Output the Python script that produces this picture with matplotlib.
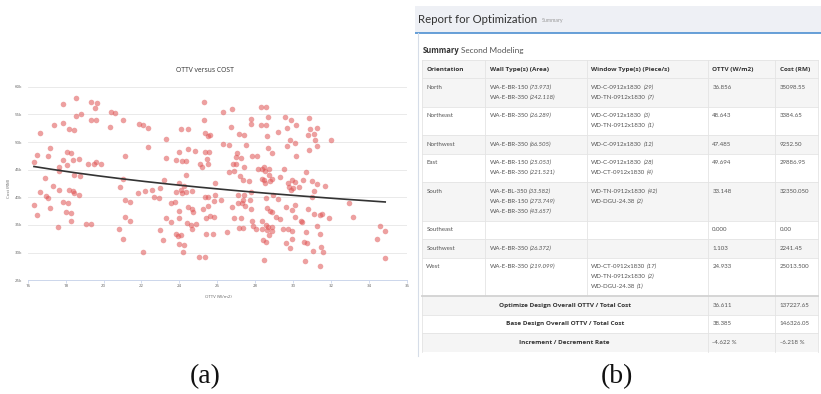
import numpy as np
import matplotlib
matplotlib.use('Agg')
import matplotlib.pyplot as plt
from matplotlib.patches import Rectangle
from matplotlib import font_manager as fm

# ---------------- (a) scatter data ----------------
ottv = [16.33, 16.35, 16.5, 16.5, 16.65, 16.65, 16.93, 16.95, 17.05, 17.05, 17.2, 17.2, 17.37, 17.35,
        17.58, 17.65, 17.67, 17.67, 17.84, 17.84, 17.88, 17.88, 18.05, 18.05, 18.04, 18.1, 18.2, 18.2,
        18.3, 18.3, 18.3, 18.4, 18.4, 18.44, 18.46, 18.46, 18.55, 18.56, 18.72, 18.74, 18.72, 18.8,
        19.1, 19.17, 19.35, 19.35, 19.35, 19.47, 19.53, 19.58, 19.6, 19.63, 19.84, 20.33, 20.37, 20.6,
        20.86, 20.84, 21.0, 21.0, 21.04, 21.14, 21.14, 21.14, 21.42, 21.42, 21.82, 21.86, 22.1, 22.1,
        22.16, 22.35, 22.33, 22.56, 22.67, 22.9, 23.0, 23.0, 23.18, 23.16, 23.3, 23.3, 23.3, 23.56,
        23.58, 23.77, 23.84, 23.8, 23.84, 23.96, 23.96, 23.95, 24.0, 24.0, 24.0, 24.1, 24.1, 24.1,
        24.13, 24.13, 24.2, 24.25, 24.25, 24.33, 24.33, 24.37, 24.4, 24.44, 24.44, 24.46, 24.6, 24.68,
        24.66, 24.66, 24.7, 24.82, 24.9, 25.04, 25.1, 25.2, 25.25, 25.3, 25.3, 25.33, 25.35, 25.35,
        25.37, 25.4, 25.42, 25.47, 25.5, 25.5,
        25.6, 25.58, 25.5, 25.86, 25.86, 25.8, 25.5, 25.8, 25.6, 25.75,
        26.28, 26.3, 26.2, 26.5, 26.6, 26.77, 26.74, 26.8, 26.6, 26.77, 26.9, 26.9, 26.98, 27.05,
        27.0, 27.1, 27.1, 27.16, 27.12, 27.2, 27.23, 27.26, 27.3, 27.33, 27.37, 27.4, 27.37, 27.4,
        27.4, 27.47, 27.5, 27.65, 27.7, 27.75, 27.8, 27.8, 27.8, 27.83, 27.83, 27.86, 28.05, 28.1,
        28.14, 28.28, 28.28, 28.35, 28.35, 28.35, 28.35, 28.4, 28.44, 28.44, 28.46, 28.5, 28.5, 28.54,
        28.56, 28.56, 28.56, 28.56, 28.6, 28.62, 28.63, 28.65, 28.67, 28.67, 28.7, 28.72, 28.75, 28.72,
        28.8, 28.86, 28.86, 28.9, 28.9, 28.93, 28.9, 29.1, 29.2, 29.2, 29.3, 29.3, 29.47, 29.5,
        29.55, 29.6, 29.6, 29.65, 29.68, 29.72, 29.75, 29.8, 29.82, 29.82, 29.86, 29.9, 29.93, 29.93,
        29.96, 29.96, 30.0, 30.07, 30.07, 30.1, 30.1, 30.14, 30.14, 30.3, 30.4, 30.44, 30.5, 30.56,
        30.63, 30.67, 30.7, 30.72, 30.8, 30.8, 30.84, 30.84, 30.88, 30.98, 31.0, 31.05, 31.07, 31.1,
        31.1, 31.16, 31.23, 31.26, 31.28, 31.28, 31.4, 31.4, 31.4, 31.47, 31.54, 31.58, 31.7, 31.87,
        31.98, 32.95, 33.16, 34.4, 34.58, 34.85, 34.85]
cost_k = [38.6, 46.3, 47.7, 36.8, 51.7, 40.9, 43.5, 40.2, 39.8, 47.4, 48.9, 38.0, 53.0, 42.1,
          34.6, 41.4, 45.5, 44.7, 56.8, 53.5, 46.7, 39.2, 48.2, 45.8, 37.3, 39.0, 41.4, 52.3,
          48.0, 37.2, 35.8, 46.7, 41.2, 44.1, 40.8, 52.1, 54.7, 58.0, 47.0, 43.9, 40.5, 55.0,
          35.1, 46.0, 35.1, 57.3, 54.0, 46.0, 56.1, 46.3, 53.9, 57.1, 46.0, 52.7, 55.4, 55.3,
          41.9, 34.3, 54.0, 43.3, 32.5, 47.4, 39.5, 36.5, 39.2, 35.8, 40.7, 53.25, 53.1, 30.2,
          41.2, 52.5, 49.1, 41.3, 40.0, 39.8, 41.7, 34.1, 43.1, 32.2, 36.3, 47.2, 50.5, 39.0,
          35.6, 39.2, 46.8, 41.0, 33.4, 48.2, 37.5, 33.0, 31.5, 36.2, 42.6, 52.3, 41.4, 33.2,
          46.6, 40.7, 30.1, 31.3, 42.1, 44.0, 40.9, 46.6, 35.4, 48.8, 38.2, 52.3, 35.0, 41.1,
          37.8, 34.2, 37.4, 48.4, 35.2, 29.3, 46.1, 45.5, 37.8, 57.3, 54.0, 48.2, 51.6, 29.2,
          40.1, 36.3, 33.3, 46.9, 51.1, 40.1,
          51.3, 48.2, 46.1, 42.6, 40.4, 39.3, 38.5, 36.5, 36.6, 33.3,
          55.5, 49.6, 39.6, 33.8, 49.5, 56.0, 52.65, 46.0, 44.6, 38.3, 44.8, 36.3, 47.3, 48.1,
          46.0, 40.5, 39.0, 51.4, 34.4, 43.9, 36.3, 47.2, 38.9, 34.4, 43.1, 40.4, 39.6, 51.3,
          45.4, 38.5, 49.5, 43.0, 39.6, 54.1, 53.2, 41.0, 37.8, 47.5, 35.7, 34.8, 34.2, 47.4,
          45.1, 56.4, 53.1, 45.1, 43.3, 35.7, 34.2, 32.3, 45.4, 28.6, 43.2, 42.6, 44.8, 53.0,
          56.3, 39.9, 35.0, 32.0, 34.1, 38.1, 51.1, 34.6, 54.5, 48.9, 44.0, 45.1, 42.95, 33.1,
          37.5, 37.3, 34.7, 48.0, 33.9, 40.5, 43.3, 36.5, 39.7, 51.9, 36.1, 43.6, 34.2, 45.1,
          54.5, 38.3, 31.7, 49.3, 52.6, 42.6, 34.2, 41.95, 50.4, 30.9, 41.4, 53.9, 37.65, 32.5,
          34.0, 43.2, 41.7, 42.85, 38.6, 49.8, 36.5, 53.1, 47.5, 41.9, 35.8, 35.5, 43.1, 32.0,
          28.4, 33.7, 44.5, 31.7, 37.8, 51.2, 54.3, 48.55, 52.3, 43.0, 40.05, 30.3, 37.05, 51.45,
          41.2, 50.4, 49.2, 52.5, 42.4, 34.9, 36.8, 33.4, 27.6, 31.1, 37.05, 30.1, 42.1, 36.3,
          50.3, 39.0, 36.5, 32.5, 34.9, 34.0, 29.0]

chart_title = 'OTTV versus COST'
x_label = 'OTTV (W/m2)'
y_label = 'Cost (RM)'
x_ticks = list(range(16, 37, 2))
y_ticks = list(range(25, 61, 5))

# ---------------- (b) table data ----------------
report_title = 'Report for Optimization'
report_sub = 'Summary'
section_bold = 'Summary'
section_rest = 'Second Modeling'
headers = ['Orientation', 'Wall Type(s) (Area)', 'Window Type(s) (Piece/s)', 'OTTV (W/m2)', 'Cost (RM)']
orientations = ['North', 'Northeast', 'Northwest', 'East', 'South', 'Southeast', 'Southwest', 'West']
wall_types = [
    [('WA-E-BR-150', '73.973'), ('WA-E-BR-350', '242.118')],
    [('WA-E-BR-350', '26.289')],
    [('WA-E-BR-350', '66.505')],
    [('WA-E-BR-150', '25.053'), ('WA-E-BR-350', '221.521')],
    [('WA-E-BL-350', '33.582'), ('WA-E-BR-150', '273.749'), ('WA-E-BR-350', '43.657')],
    [],
    [('WA-E-BR-350', '26.372')],
    [('WA-E-BR-350', '219.099')],
]
window_types = [
    [('WD-C-0912x1830', '29'), ('WD-TN-0912x1830', '7')],
    [('WD-C-0912x1830', '3'), ('WD-TN-0912x1830', '1')],
    [('WD-C-0912x1830', '12')],
    [('WD-C-0912x1830', '28'), ('WD-CT-0912x1830', '4')],
    [('WD-TN-0912x1830', '42'), ('WD-DGU-24.38', '2')],
    [],
    [],
    [('WD-CT-0912x1830', '17'), ('WD-TN-0912x1830', '2'), ('WD-DGU-24.38', '1')],
]
ottv_values = ['36.856', '48.643', '47.485', '49.694', '33.148', '0.000', '1.103', '24.933']
cost_values = ['35098.55', '3384.65', '9252.50', '29886.95', '32350.050', '0.00', '2241.45', '25013.500']
summary_labels = ['Optimize Design Overall OTTV / Total Cost',
                  'Base Design Overall OTTV / Total Cost',
                  'Increment / Decrement Rate']
summary_ottv = ['36.611', '38.385', '-4.622 %']
summary_cost = ['137227.65', '146326.05', '-6.218 %']

# ---------------- figure ----------------
W, H = 821, 394
fig = plt.figure(figsize=(W / 100, H / 100), dpi=100)
fig.patch.set_facecolor('white')


def fx(px):
    return px / W


def fy(py):
    return 1 - py / H


CF = 'Open Sans'
ax = fig.add_axes([fx(27.7), fy(280.3), fx(407) - fx(27.7), fy(86.7) - fy(280.3)])
ax.scatter(ottv, cost_k, s=16, color='#df5353', alpha=0.55, linewidths=0, zorder=3)
xo = np.array(ottv)
yo = np.array(cost_k)
b, loga = np.polyfit(np.log(xo), np.log(yo), 1)
xs = np.linspace(xo.min(), xo.max(), 200)
ax.plot(xs, np.exp(loga) * xs ** b, color='#333333', lw=1.2, zorder=4)
ax.set_xlim(16, 36)
ax.set_ylim(25, 60)
ax.set_xticks(x_ticks)
ax.set_yticks(y_ticks)
ax.set_xticklabels([str(v) for v in x_ticks], fontfamily=CF)
ax.set_yticklabels([f'{v}k' for v in y_ticks], fontfamily=CF)
ax.grid(axis='y', color='#e6e6e6', lw=0.6, zorder=0)
for s in ['top', 'right', 'left']:
    ax.spines[s].set_visible(False)
ax.spines['bottom'].set_color('#ccd6eb')
ax.spines['bottom'].set_linewidth(0.7)
ax.tick_params(axis='y', length=0, labelsize=3.2, labelcolor='#666666', pad=4)
ax.tick_params(axis='x', length=2.2, width=0.6, color='#ccd6eb', labelsize=3.2,
               labelcolor='#666666', pad=0.6)
ax.set_axisbelow(True)

fig.text(fx(204.5), fy(71), chart_title, ha='center', va='center', fontsize=4.9,
         color='#333333', family=CF)
fig.text(fx(218), fy(296.7), x_label, ha='center', va='center', fontsize=3.2,
         color='#666666', family=CF)
fig.text(fx(8.5), fy(188), y_label, ha='center', va='center', fontsize=3.2,
         color='#666666', family=CF, rotation=90)

# ---------------- table overlay (pixel coordinates) ----------------
tax = fig.add_axes([0, 0, 1, 1])
tax.set_xlim(0, W)
tax.set_ylim(H, 0)
tax.axis('off')
tax.patch.set_visible(False)
renderer = fig.canvas.get_renderer()
TF = 'Lato'
BOLD = fm.FontProperties(family='Open Sans', weight='bold')

# panel header
tax.add_patch(Rectangle((415, 6), W - 415, 26.5, color='#eef0f5', lw=0))
tax.plot([415, W], [32.7, 32.7], color='#4d8fd1', lw=1.2, solid_capstyle='butt')
tax.plot([417.6, 417.6], [33.3, 356], color='#d6dde8', lw=0.8)
t = tax.text(418.5, 19.5, report_title, fontsize=8.2, color='#333333', family=TF,
             ha='left', va='center')
bb = t.get_window_extent(renderer)
tax.text(bb.x1 + 4, 20.5, report_sub, fontsize=3.8, color='#9a9a9a', family=TF,
         ha='left', va='center')

t = tax.text(422.5, 50, section_bold, color='#333333',
             fontproperties=BOLD, ha='left', va='center')
t.set_fontsize(5.5)
bb = t.get_window_extent(renderer)
tax.text(bb.x1 + 1.8, 50, section_rest, fontsize=5.9, color='#555555', family=TF,
         ha='left', va='center')

col_x = [421.7, 485, 586.7, 707.7, 775, 818]
PAD = 4.6
FS = 4.4
FSB = 4.6
TXT = '#555555'
GRID = '#e4e4e4'
SHADE = '#f5f5f5'


def btext(x, y, s, **kw):
    tt = tax.text(x, y, s, color='#333333', fontproperties=BOLD, va='center', **kw)
    tt.set_fontsize(FSB)
    return tt


# header row
tax.add_patch(Rectangle((col_x[0], 60), col_x[-1] - col_x[0], 18, color=SHADE, lw=0))
for i, h in enumerate(headers):
    btext(col_x[i] + PAD, 69.3, h, ha='left')
tax.plot([col_x[0], col_x[-1]], [60, 60], color=GRID, lw=0.6)


def item(x, y, name, val):
    t1 = tax.text(x, y, name, fontsize=FS, color=TXT, family=TF, ha='left', va='center')
    b1 = t1.get_window_extent(renderer)
    tax.text(b1.x1 + 1.4, y, f'({val})', fontsize=FS, color=TXT, family=TF,
             style='italic', ha='left', va='center')


top = 78.0
for r, name in enumerate(orientations):
    n = max(1, len(wall_types[r]), len(window_types[r]))
    h = 8.5 + 10 * n
    if r % 2 == 0:
        tax.add_patch(Rectangle((col_x[0], top), col_x[-1] - col_x[0], h, color=SHADE, lw=0))
    tax.plot([col_x[0], col_x[-1]], [top, top], color=GRID, lw=0.6)
    y0 = top + 9.3
    tax.text(col_x[0] + PAD, y0, name, fontsize=FS, color=TXT, family=TF, ha='left', va='center')
    for k, (nm, v) in enumerate(wall_types[r]):
        item(col_x[1] + PAD, y0 + 10 * k, nm, v)
    for k, (nm, v) in enumerate(window_types[r]):
        item(col_x[2] + PAD, y0 + 10 * k, nm, v)
    tax.text(col_x[3] + PAD, y0, ottv_values[r], fontsize=FS, color=TXT, family=TF,
             ha='left', va='center')
    tax.text(col_x[4] + PAD, y0, cost_values[r], fontsize=FS, color=TXT, family=TF,
             ha='left', va='center')
    top += h
body_bottom = top
for cx in col_x:
    tax.plot([cx, cx], [60, body_bottom], color=GRID, lw=0.6)

# summary rows
top = body_bottom
rh = 18.5
for r, lab in enumerate(summary_labels):
    if r % 2 == 0:
        tax.add_patch(Rectangle((col_x[0], top), col_x[-1] - col_x[0], rh, color=SHADE, lw=0))
    yc = top + rh / 2
    btext((col_x[0] + col_x[3]) / 2, yc, lab, ha='center')
    tax.text(col_x[3] + PAD, yc, summary_ottv[r], fontsize=FS, color=TXT, family=TF,
             ha='left', va='center')
    tax.text(col_x[4] + PAD, yc, summary_cost[r], fontsize=FS, color=TXT, family=TF,
             ha='left', va='center')
    if r > 0:
        tax.plot([col_x[0], col_x[-1]], [top, top], color=GRID, lw=0.6)
    top += rh
for cx in [col_x[0], col_x[3], col_x[4], col_x[5]]:
    tax.plot([cx, cx], [body_bottom, top], color=GRID, lw=0.6)
tax.plot([col_x[0], col_x[-1]], [body_bottom, body_bottom], color='#d2d2d2', lw=1.3)

# panel captions
tax.text(205, 377, '(a)', fontsize=20, family='Liberation Serif', color='#111111',
         ha='center', va='center')
tax.text(617, 377, '(b)', fontsize=20, family='Liberation Serif', color='#111111',
         ha='center', va='center')

fig.savefig('out.png', dpi=100, facecolor='white')
